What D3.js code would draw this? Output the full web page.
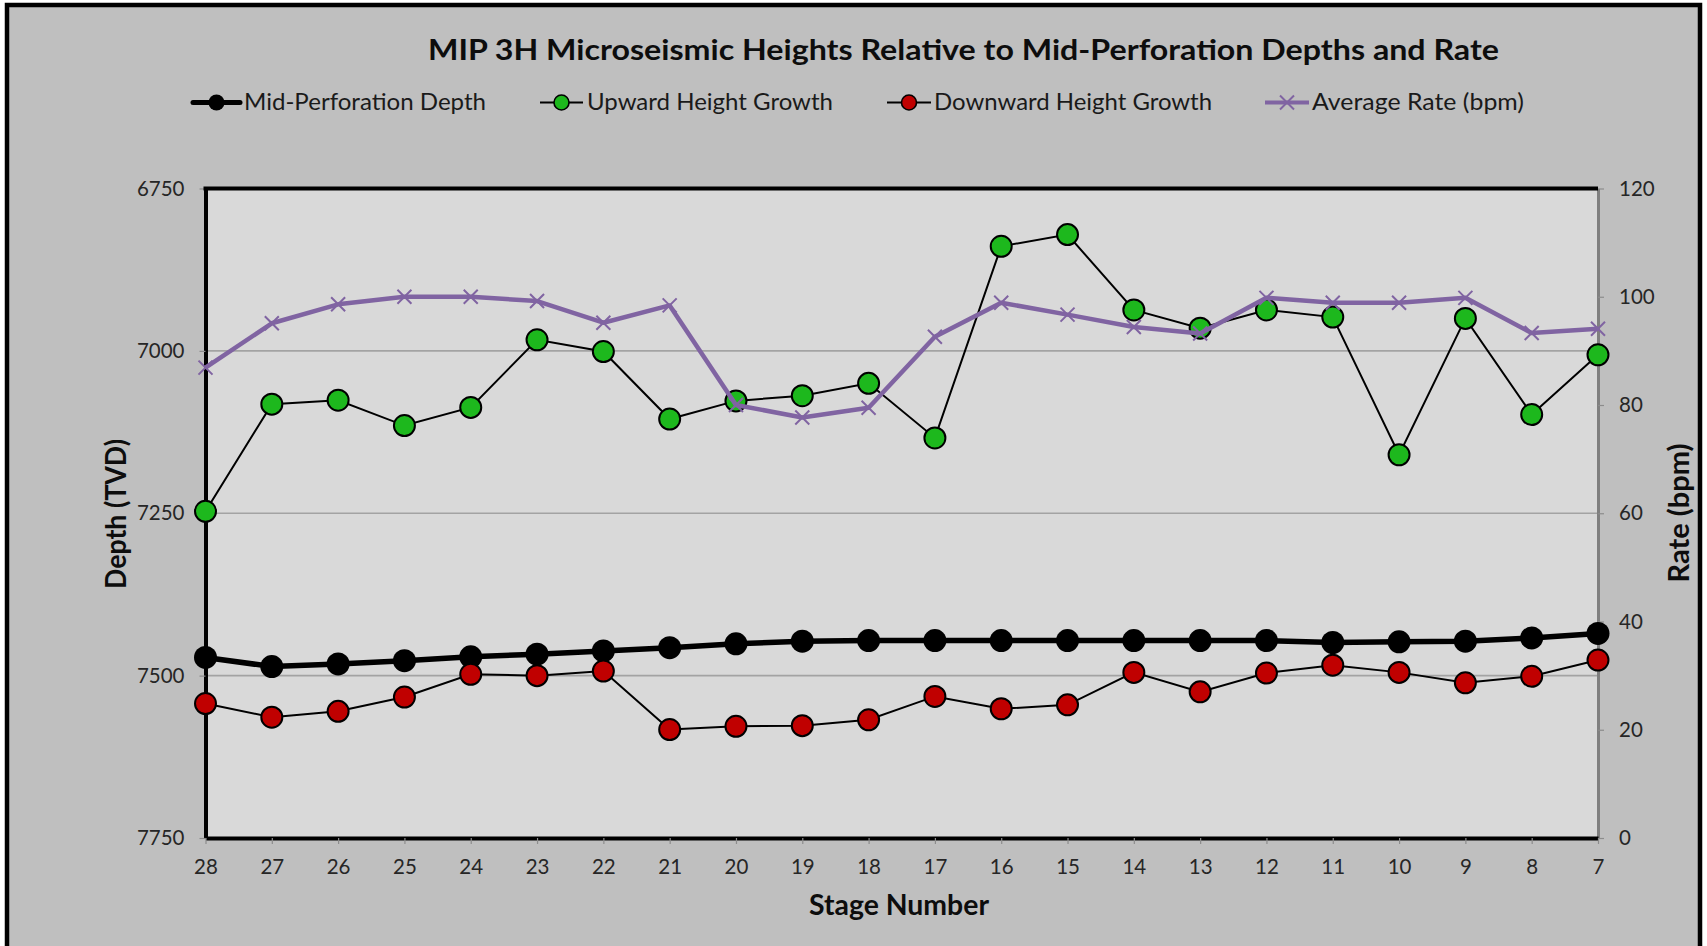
<!DOCTYPE html>
<html>
<head>
<meta charset="utf-8">
<script src="https://cdn.jsdelivr.net/npm/d3@7"></script>
<style>
  body { margin: 0; background: #fff; }
  text { font-family: Lato, "Open Sans", sans-serif; }
</style>
</head>
<body>
<svg id="chart" width="1707" height="946"></svg>
<script>
// Stage numbers, ordered as they run along the x axis
const stages = [28, 27, 26, 25, 24, 23, 22, 21, 20, 19, 18, 17, 16, 15, 14, 13, 12, 11, 10, 9, 8, 7];

// Depths (ft TVD), one per stage
const midPerfDepth = [7472, 7486, 7482, 7477, 7471, 7467, 7462, 7457, 7451, 7447, 7446,
                      7446, 7446, 7446, 7446, 7446, 7446, 7449, 7448, 7447, 7442, 7435];
const upwardGrowth = [7247, 7082, 7076, 7115, 7087, 6983, 7001, 7105, 7077, 7069, 7050,
                      7134, 6839, 6821, 6937, 6965, 6937, 6948, 7160, 6950, 7098, 7006];
const downwardGrowth = [7543, 7564, 7555, 7533, 7498, 7500, 7493, 7583, 7578, 7577, 7568,
                        7532, 7551, 7545, 7495, 7525, 7496, 7484, 7495, 7511, 7501, 7476];

// Average pump rate (bpm), one per stage
const avgRate = [86.9, 95.1, 98.6, 100.0, 100.0, 99.2, 95.2, 98.4, 80.0, 77.7, 79.5,
                 92.6, 98.9, 96.7, 94.4, 93.2, 99.8, 98.9, 98.9, 99.8, 93.3, 94.1];

// Axis ticks
const depthTicks = [6750, 7000, 7250, 7500, 7750];
const rateTicks = [0, 20, 40, 60, 80, 100, 120];

// Text
const chartTitle = "MIP 3H Microseismic Heights Relative to Mid-Perforation Depths and Rate";
const legendLabels = ["Mid-Perforation Depth", "Upward Height Growth", "Downward Height Growth", "Average Rate (bpm)"];
const xTitle = "Stage Number";
const yLeftTitle = "Depth (TVD)";
const yRightTitle = "Rate (bpm)";

const COLORS = { bg: "#bfbfbf", plot: "#d9d9d9", grid: "#a3a3a3", green: "#1db81d", red: "#c00000", purple: "#8064a2", tick: "#262626" };
const plot = { left: 205.5, right: 1598, top: 188.5, bottom: 838 };

const svg = d3.select("#chart");

// outer chart frame
svg.append("rect").attr("x", 7).attr("y", 5).attr("width", 1693).attr("height", 1000)
  .attr("fill", COLORS.bg).attr("stroke", "#000").attr("stroke-width", 4.5);

const x = d3.scalePoint().domain(stages).range([plot.left, plot.right]).padding(0);
const yDepth = d3.scaleLinear().domain([6750, 7750]).range([plot.top, plot.bottom]);
const yRate = d3.scaleLinear().domain([0, 120]).range([plot.bottom, plot.top]);

// plot area
svg.append("rect").attr("x", plot.left).attr("y", plot.top)
  .attr("width", plot.right - plot.left).attr("height", plot.bottom - plot.top)
  .attr("fill", COLORS.plot);

// horizontal gridlines
svg.append("g").selectAll("line").data(depthTicks.slice(1, -1)).join("line")
  .attr("x1", plot.left).attr("x2", plot.right)
  .attr("y1", d => yDepth(d)).attr("y2", d => yDepth(d))
  .attr("stroke", COLORS.grid).attr("stroke-width", 1.6);

// axes
function styleAxis(g, domainColor, domainWidth) {
  g.select(".domain").attr("stroke", domainColor).attr("stroke-width", domainWidth);
  g.selectAll(".tick line").attr("stroke", "#8c8c8c").attr("stroke-width", 1.2);
  g.selectAll(".tick text").attr("fill", COLORS.tick).attr("font-size", 20.5).attr("font-family", "Lato, sans-serif");
}

const leftAxis = svg.append("g").attr("transform", `translate(${plot.left},0)`)
  .call(d3.axisLeft(yDepth).tickValues(depthTicks).tickFormat(d3.format("d")).tickSize(6).tickSizeOuter(0).tickPadding(15));
styleAxis(leftAxis, "#000", 4);

const rightAxis = svg.append("g").attr("transform", `translate(${plot.right},0)`)
  .call(d3.axisRight(yRate).tickValues(rateTicks).tickSize(6).tickSizeOuter(0).tickPadding(15));
styleAxis(rightAxis, "#7f7f7f", 3);

const bottomAxis = svg.append("g").attr("transform", `translate(0,${plot.bottom})`)
  .call(d3.axisBottom(x).tickSize(6).tickSizeOuter(0).tickPadding(15));
styleAxis(bottomAxis, "#000", 4);

// top border of plot area
svg.append("line").attr("x1", plot.left - 2).attr("x2", plot.right).attr("y1", plot.top).attr("y2", plot.top)
  .attr("stroke", "#000").attr("stroke-width", 4);

// series
const depthLine = d3.line().x((d, i) => x(stages[i])).y(d => yDepth(d));
const rateLine = d3.line().x((d, i) => x(stages[i])).y(d => yRate(d));

function xMarkerPath(cx, cy, s) {
  return `M${cx - s},${cy - s}L${cx + s},${cy + s}M${cx - s},${cy + s}L${cx + s},${cy - s}`;
}

// mid-perforation depth
svg.append("path").datum(midPerfDepth).attr("d", depthLine)
  .attr("fill", "none").attr("stroke", "#000").attr("stroke-width", 5.5).attr("stroke-linejoin", "round");
svg.append("g").selectAll("circle").data(midPerfDepth).join("circle")
  .attr("cx", (d, i) => x(stages[i])).attr("cy", d => yDepth(d)).attr("r", 11.5).attr("fill", "#000");

// upward height growth
svg.append("path").datum(upwardGrowth).attr("d", depthLine)
  .attr("fill", "none").attr("stroke", "#000").attr("stroke-width", 2);
svg.append("g").selectAll("circle").data(upwardGrowth).join("circle")
  .attr("cx", (d, i) => x(stages[i])).attr("cy", d => yDepth(d)).attr("r", 10.5)
  .attr("fill", COLORS.green).attr("stroke", "#000").attr("stroke-width", 2);

// downward height growth
svg.append("path").datum(downwardGrowth).attr("d", depthLine)
  .attr("fill", "none").attr("stroke", "#000").attr("stroke-width", 2);
svg.append("g").selectAll("circle").data(downwardGrowth).join("circle")
  .attr("cx", (d, i) => x(stages[i])).attr("cy", d => yDepth(d)).attr("r", 10.5)
  .attr("fill", COLORS.red).attr("stroke", "#000").attr("stroke-width", 2);

// average rate on the secondary axis
svg.append("path").datum(avgRate).attr("d", rateLine)
  .attr("fill", "none").attr("stroke", COLORS.purple).attr("stroke-width", 4.5).attr("stroke-linejoin", "round");
svg.append("g").selectAll("path").data(avgRate).join("path")
  .attr("d", (d, i) => xMarkerPath(x(stages[i]), yRate(d), 7))
  .attr("stroke", COLORS.purple).attr("stroke-width", 2).attr("fill", "none");

// title
svg.append("text").attr("x", 428).attr("y", 60)
  .attr("font-size", 29).attr("font-weight", "bold").attr("fill", "#0d0d0d")
  .attr("textLength", 1071).attr("lengthAdjust", "spacingAndGlyphs")
  .text(chartTitle);

// legend
const legendItems = [
  { label: legendLabels[0], x0: 193, x1: 240, tx: 244, tw: 242, kind: "depth" },
  { label: legendLabels[1], x0: 540, x1: 583, tx: 587, tw: 246, kind: "up" },
  { label: legendLabels[2], x0: 887, x1: 931, tx: 934, tw: 278, kind: "down" },
  { label: legendLabels[3], x0: 1265, x1: 1309, tx: 1312, tw: 212, kind: "rate" }
];
const ly = 102.5;
const legend = svg.append("g");
legendItems.forEach(it => {
  const cx = (it.x0 + it.x1) / 2;
  if (it.kind === "rate") {
    legend.append("line").attr("x1", it.x0).attr("x2", it.x1).attr("y1", ly).attr("y2", ly)
      .attr("stroke", COLORS.purple).attr("stroke-width", 4);
    legend.append("path").attr("d", xMarkerPath(cx, ly, 7)).attr("stroke", COLORS.purple).attr("stroke-width", 2);
  } else if (it.kind === "depth") {
    legend.append("line").attr("x1", it.x0).attr("x2", it.x1).attr("y1", ly).attr("y2", ly)
      .attr("stroke", "#000").attr("stroke-width", 5).attr("stroke-linecap", "round");
    legend.append("circle").attr("cx", cx).attr("cy", ly).attr("r", 8).attr("fill", "#000");
  } else {
    legend.append("line").attr("x1", it.x0).attr("x2", it.x1).attr("y1", ly).attr("y2", ly)
      .attr("stroke", "#000").attr("stroke-width", 2);
    legend.append("circle").attr("cx", cx).attr("cy", ly).attr("r", 7.5)
      .attr("fill", it.kind === "up" ? COLORS.green : COLORS.red).attr("stroke", "#000").attr("stroke-width", 1.6);
  }
  legend.append("text").attr("x", it.tx).attr("y", 110).attr("font-size", 23).attr("fill", "#1a1a1a")
    .attr("textLength", it.tw).attr("lengthAdjust", "spacingAndGlyphs").text(it.label);
});

// axis titles
svg.append("text").attr("x", 899).attr("y", 915).attr("text-anchor", "middle")
  .attr("font-size", 28).attr("font-weight", "bold").attr("fill", "#0d0d0d")
  .attr("textLength", 180).attr("lengthAdjust", "spacingAndGlyphs").text(xTitle);

svg.append("text").attr("transform", "translate(126,514) rotate(-90)").attr("text-anchor", "middle")
  .attr("font-size", 28).attr("font-weight", "bold").attr("fill", "#0d0d0d")
  .attr("textLength", 150).attr("lengthAdjust", "spacingAndGlyphs").text(yLeftTitle);

svg.append("text").attr("transform", "translate(1689,513) rotate(-90)").attr("text-anchor", "middle")
  .attr("font-size", 28).attr("font-weight", "bold").attr("fill", "#0d0d0d")
  .attr("textLength", 139).attr("lengthAdjust", "spacingAndGlyphs").text(yRightTitle);
</script>
</body>
</html>
